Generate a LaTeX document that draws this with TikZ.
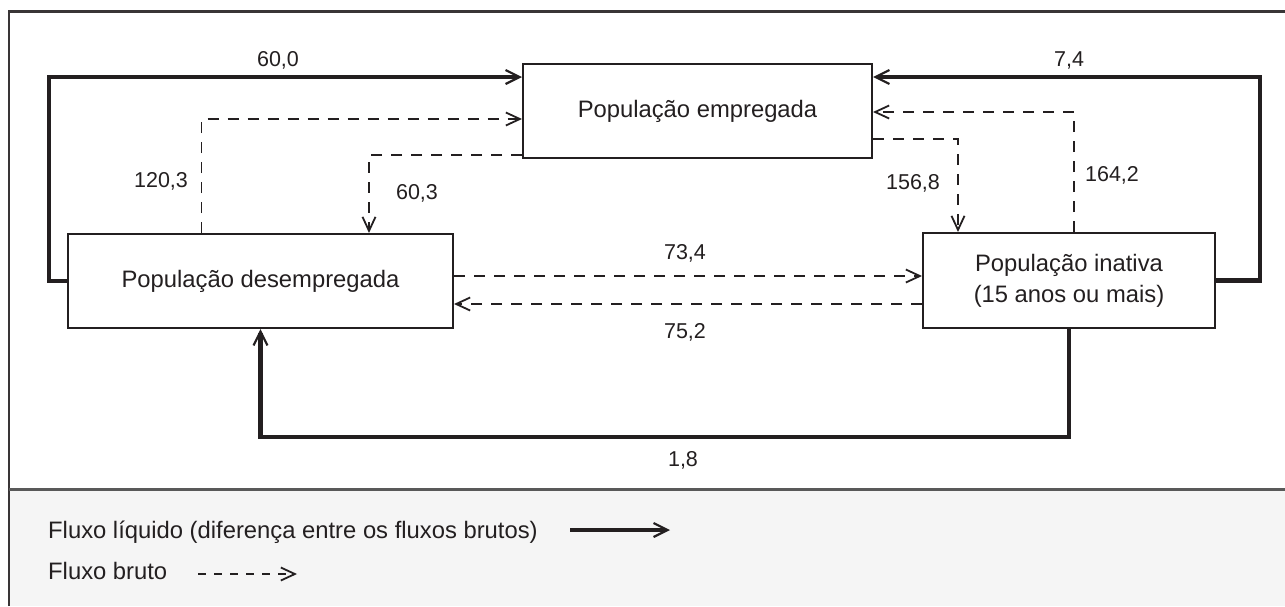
\documentclass[tikz,border=0pt]{standalone}
\usepackage{fontspec}
\setmainfont{Liberation Sans}
\usetikzlibrary{arrows.meta}
\definecolor{ink}{HTML}{231F20}
\definecolor{legbg}{HTML}{F5F5F5}
\begin{document}
\begin{tikzpicture}[x=1pt,y=-1pt,
  box/.style={draw=ink,line width=2pt,inner sep=0pt,align=center,text=ink,
    font=\fontsize{23.8}{31}\selectfont},
  lbl/.style={inner sep=0pt,text=ink,font=\fontsize{21.5}{26}\selectfont},
  legtext/.style={inner sep=0pt,text=ink,anchor=base west,font=\fontsize{23.8}{28}\selectfont},
  net/.style={draw=ink,line width=4.5pt,line join=miter,
    -{Straight Barb[length=14pt,width=14pt,line width=2.2pt]}},
  gross/.style={draw=ink,line width=1.4pt,dash pattern=on 11pt off 9pt,
    -{Straight Barb[length=14pt,width=13pt,line width=1.8pt,sep=0pt]}}
]
\useasboundingbox (0,0) rectangle (1285,606);
% frame and legend area
\fill[legbg] (9,489) rectangle (1285,606);
\draw[ink!90,line width=2.5pt] (9,606) -- (9,11.5) -- (1285,11.5);
\draw[black!65,line width=3pt] (9,489) -- (1285,489);

% boxes
\node[box,minimum width=349pt,minimum height=94pt] (emp) at (697.5,111) {População empregada};
\node[box,minimum width=385pt,minimum height=94pt] (des) at (260.5,281) {População desempregada};
\node[box,minimum width=292pt,minimum height=95pt] (ina) at (1069,280.5) {População inativa\\(15 anos ou mais)};

% net flows
\draw[net] (des.west) -| (49,77) -- (emp.west |- 0,77);
\draw[net] (ina.east) -| (1260,77) -- (emp.east |- 0,77);
\draw[net] (ina.south) |- (260.5,437) -- (des.south);

% gross flows
\draw[gross] (des.north -| 201.7,0) |- (emp.west |- 0,119);
\draw[gross] (emp.west |- 0,155) -| (des.north -| 369,0);
\draw[gross] (emp.east |- 0,139) -| (ina.north -| 958,0);
\draw[gross] (ina.north -| 1074,0) |- (emp.east |- 0,112);
\draw[gross] (des.east |- 0,276) -- (ina.west |- 0,276);
\draw[gross] (ina.west |- 0,304) -- (des.east |- 0,304);

% labels
\node[lbl] (l600) at (278,60) {60,0};
\node[lbl] (l74) at (1069,60) {7,4};
\node[lbl] (l18) at (683,460) {1,8};
\node[lbl] (l1203) at (161,181) {120,3};
\node[lbl] (l603) at (417,193) {60,3};
\node[lbl] (l1568) at (913,183) {156,8};
\node[lbl] (l1642) at (1112,175) {164,2};
\node[lbl] (l734) at (685,253) {73,4};
\node[lbl] (l752) at (685,332) {75,2};

% legend
\node[legtext] (leg1) at (48,538) {Fluxo líquido (diferença entre os fluxos brutos)};
\node[legtext] (leg2) at (48,579) {Fluxo bruto};
\coordinate (n1) at (570,530);
\coordinate (n2) at (670,530);
\coordinate (g1) at (198,574);
\coordinate (g2) at (297,574);
\draw[net,line width=3.5pt] (n1) -- (n2);
\draw[gross,dash pattern=on 8pt off 8pt] (g1) -- (g2);
\end{tikzpicture}
\end{document}
